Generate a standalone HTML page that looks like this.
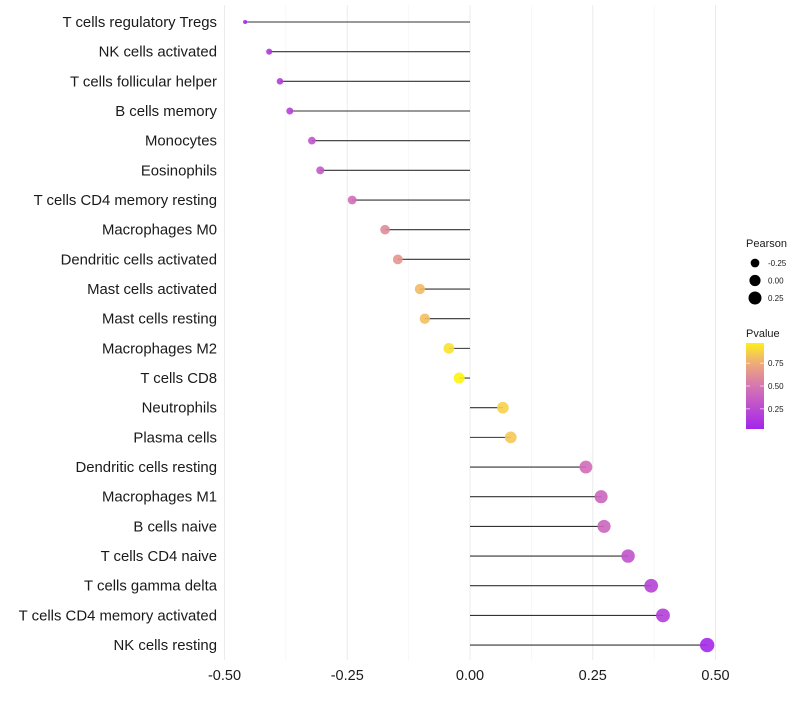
<!DOCTYPE html>
<html><head><meta charset="utf-8"><style>
body{margin:0;background:#fff;font-family:"Liberation Sans",sans-serif}
</style></head><body>
<svg id="c" width="800" height="700" xmlns="http://www.w3.org/2000/svg"></svg>
<script>
const categories=["T cells regulatory  Tregs","NK cells activated","T cells follicular helper","B cells memory","Monocytes","Eosinophils","T cells CD4 memory resting","Macrophages M0","Dendritic cells activated","Mast cells activated","Mast cells resting","Macrophages M2","T cells CD8","Neutrophils","Plasma cells","Dendritic cells resting","Macrophages M1","B cells naive","T cells CD4 naive","T cells gamma delta","T cells CD4 memory activated","NK cells resting"];
const pearson=[-0.458,-0.409,-0.387,-0.367,-0.322,-0.305,-0.240,-0.173,-0.147,-0.102,-0.092,-0.043,-0.022,0.067,0.083,0.236,0.267,0.273,0.322,0.369,0.393,0.483];
const pvalue=[0.05,0.15,0.18,0.2,0.3,0.33,0.45,0.6,0.65,0.8,0.82,0.93,0.98,0.88,0.85,0.45,0.4,0.4,0.3,0.2,0.18,0.05];
const xTicks=[-0.5,-0.25,0,0.25,0.5];
const xTickLabels=["-0.50","-0.25","0.00","0.25","0.50"];
const sizeLegend=[-0.25,0,0.25];
const sizeLegendLabels=["-0.25","0.00","0.25"];
const colorLegend=[0.75,0.5,0.25];
const colorLegendLabels=["0.75","0.50","0.25"];

const svg=document.getElementById('c');
const NS="http://www.w3.org/2000/svg";
const X=v=>470+v*491;
const Y=i=>22+i*29.67;
const R=v=>1.8+5.4*Math.sqrt(Math.max(0,(v+0.46)/0.94));
function col(p){
  const stops=[[0,[160,32,240]],[0.5,[214,118,178]],[0.75,[238,172,118]],[0.9,[248,215,70]],[1,[255,250,0]]];
  for(let k=1;k<stops.length;k++){if(p<=stops[k][0]){const a=stops[k-1],b=stops[k];const t=(p-a[0])/(b[0]-a[0]);
    return 'rgb('+a[1].map((c,j)=>Math.round(c+(b[1][j]-c)*t)).join(',')+')';}}
  return 'rgb(255,250,0)';
}
function mk(tag,attrs,name,parent){const e=document.createElementNS(NS,tag);for(const k in attrs)e.setAttribute(k,attrs[k]);
  
  
  (parent||svg).appendChild(e);return e;}
for(let v=-0.5;v<=0.5001;v+=0.125){
  const major=Math.abs(v*4-Math.round(v*4))<1e-6;
  mk('line',{x1:X(v),x2:X(v),y1:5,y2:660,stroke:major?'#ebebeb':'#f4f4f4','stroke-width':major?1:0.6},'grid-line');
}
xTicks.forEach((v,i)=>{const t=mk('text',{x:X(v),y:680,'text-anchor':'middle','font-size':14.5,fill:'#1a1a1a'},'x-tick-label');t.textContent=xTickLabels[i];});
categories.forEach((c,i)=>{
  const y=Y(i);
  mk('line',{x1:X(0),x2:X(pearson[i]),y1:y,y2:y,stroke:'#333','stroke-width':1.1},'stem-'+i);
  mk('circle',{cx:X(pearson[i]),cy:y,r:R(pearson[i]),fill:col(pvalue[i]),'fill-opacity':0.9},'point-'+i);
  const t=mk('text',{x:217,y:y+5,'text-anchor':'end','font-size':14.9,fill:'#1a1a1a'},'y-tick-label');t.textContent=c;
});
let t=mk('text',{x:746,y:247,'font-size':11,fill:'#1a1a1a'},'size-legend-title');t.textContent='Pearson';
sizeLegend.forEach((v,i)=>{const y=263+i*17.5;
  mk('circle',{cx:755,cy:y,r:R(v),fill:'#000'},'size-legend-key');
  const l=mk('text',{x:768,y:y+3,'font-size':8,fill:'#1a1a1a'},'size-legend-label');l.textContent=sizeLegendLabels[i];});
t=mk('text',{x:746,y:337,'font-size':11,fill:'#1a1a1a'},'color-legend-title');t.textContent='Pvalue';
const defs=mk('defs',{},'defs');
const g=mk('linearGradient',{id:'gr',x1:0,y1:1,x2:0,y2:0},'gradient',defs);
[0,0.2,0.4,0.5,0.6,0.75,0.85,1].forEach(o=>mk('stop',{offset:o,'stop-color':col(0.03+o*0.94)},'grad-stop',g));
mk('rect',{x:746,y:343,width:18,height:86,fill:'url(#gr)'},'colorbar');
const cy=p=>429-(p-0.03)/0.94*86;
colorLegend.forEach((p,i)=>{
  mk('line',{x1:746,x2:750,y1:cy(p),y2:cy(p),stroke:'#fff','stroke-width':0.6},'colorbar-tick');
  mk('line',{x1:760,x2:764,y1:cy(p),y2:cy(p),stroke:'#fff','stroke-width':0.6},'colorbar-tick');
  const l=mk('text',{x:768,y:cy(p)+3,'font-size':8,fill:'#1a1a1a'},'color-legend-label');l.textContent=colorLegendLabels[i];});
</script>
</body></html>
